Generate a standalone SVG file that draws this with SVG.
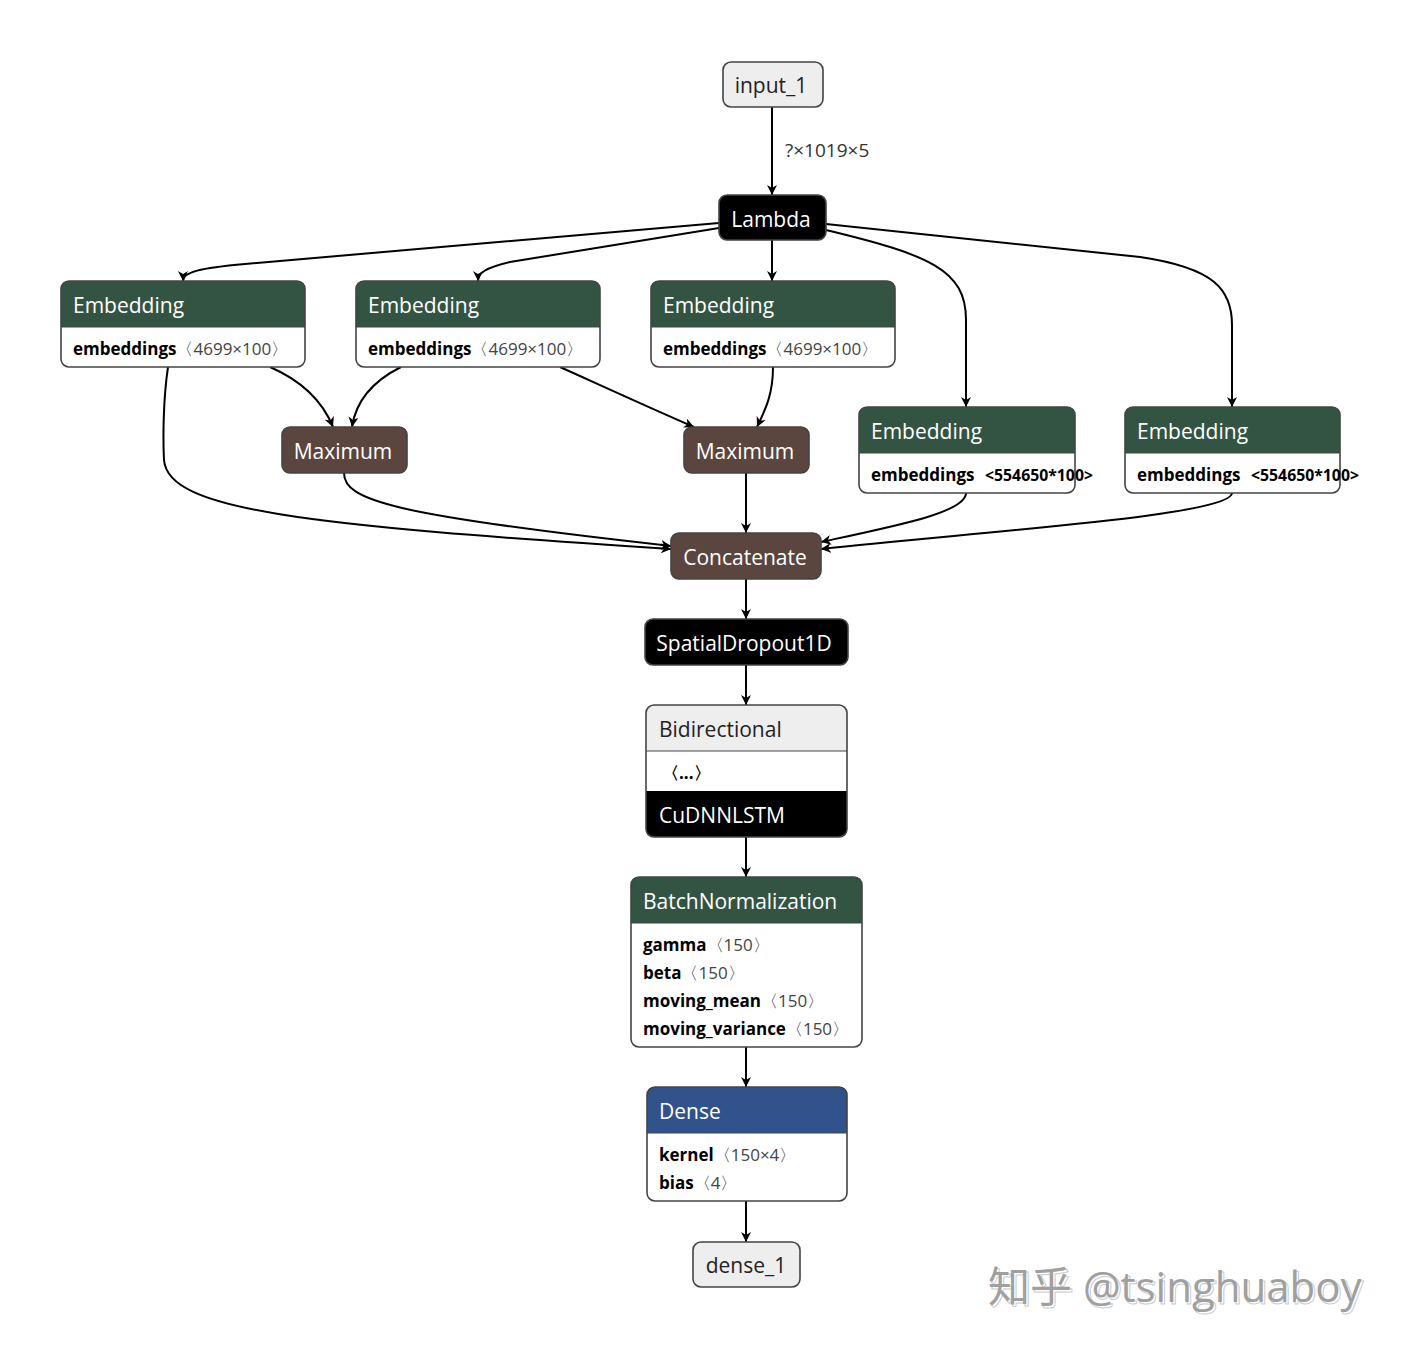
<svg xmlns="http://www.w3.org/2000/svg" width="1402" height="1350" viewBox="0 0 1402 1350">
<defs>
<marker id="arr" viewBox="0 0 10 10" refX="10" refY="5" markerWidth="10" markerHeight="10" markerUnits="userSpaceOnUse" orient="auto">
<path d="M0,0 L10,5 L0,10 L3,5 Z" fill="#000"/>
</marker>
<style>
.box{stroke:#444;stroke-width:1.6;fill:none}
.t{font-family:"Open Sans","Noto Sans","DejaVu Sans",sans-serif;font-size:21px}
.w{fill:#fff}
.k{fill:#222}
.b{font-family:"Open Sans","Noto Sans","DejaVu Sans",sans-serif;font-size:17px;fill:#000}
.bb{font-weight:bold}
.s{font-size:15.8px}
.edge{fill:none;stroke:#000;stroke-width:2;marker-end:url(#arr)}
.green{fill:#335443}
.brown{fill:#5b463f}
.blue{fill:#31528a}
</style>
</defs>
<rect width="1402" height="1350" fill="#fff"/>

<g id="connectors">
<path class="edge" d="M772,107 L772,195"/>
<path class="edge" d="M719,223 L245,264 C200,268 183,272 183,281"/>
<path class="edge" d="M719,228 L510,262 C485,268 478,273 478,281"/>
<path class="edge" d="M772,240 L772,281"/>
<path class="edge" d="M826,230 C930,255 966,270 966,320 L966,407"/>
<path class="edge" d="M826,224 L1140,257 C1215,268 1232,290 1232,325 L1232,407"/>
<path class="edge" d="M270,367 C300,380 322,400 333,427"/>
<path class="edge" d="M401,367 C375,380 356,400 352,427"/>
<path class="edge" d="M560,367 C600,385 650,408 694,427"/>
<path class="edge" d="M773,367 C773,395 765,410 757,427"/>
<path class="edge" d="M168,367 C163,400 163,440 164,460 C168,510 300,525 671,549"/>
<path class="edge" d="M344,473 C344,500 390,515 671,546"/>
<path class="edge" d="M746,473 L746,533"/>
<path class="edge" d="M966,493 C966,512 900,525 821,542"/>
<path class="edge" d="M1232,493 C1232,515 1000,530 821,549"/>
<path class="edge" d="M746,579 L746,619"/>
<path class="edge" d="M746,665 L746,705"/>
<path class="edge" d="M746,837 L746,877"/>
<path class="edge" d="M746,1047 L746,1087"/>
<path class="edge" d="M746,1201 L746,1242"/>
<text class="t" x="785" y="157" style="font-size:19px;fill:#333">?×1019×5</text>
</g>

<g id="input_1">
<rect x="723" y="62" width="100" height="45" rx="8" fill="#eee" stroke="#444" stroke-width="1.6"/>
<text class="t k" x="771" y="93" text-anchor="middle">input_1</text>
</g>

<g id="lambda">
<rect x="719" y="195" width="107" height="45" rx="8" fill="#000" stroke="#444" stroke-width="1.6"/>
<text class="t w" x="771" y="227" text-anchor="middle">Lambda</text>
</g>

<g id="embedding_1">
<rect x="61" y="281" width="244" height="86" rx="8" fill="#fff"/>
<path class="green" d="M61,327 L61,289 Q61,281 69,281 L297,281 Q305,281 305,289 L305,327 Z"/>
<rect class="box" x="61" y="281" width="244" height="86" rx="8"/>
<line x1="61" y1="327" x2="305" y2="327" stroke="#444" stroke-width="1.2"/>
<text class="t w" x="73" y="313">Embedding</text>
<text class="b" x="73" y="355"><tspan class="bb">embeddings</tspan><tspan fill="#444">〈4699×100〉</tspan></text>
</g>

<g id="embedding_2">
<rect x="356" y="281" width="244" height="86" rx="8" fill="#fff"/>
<path class="green" d="M356,327 L356,289 Q356,281 364,281 L592,281 Q600,281 600,289 L600,327 Z"/>
<rect class="box" x="356" y="281" width="244" height="86" rx="8"/>
<line x1="356" y1="327" x2="600" y2="327" stroke="#444" stroke-width="1.2"/>
<text class="t w" x="368" y="313">Embedding</text>
<text class="b" x="368" y="355"><tspan class="bb">embeddings</tspan><tspan fill="#444">〈4699×100〉</tspan></text>
</g>

<g id="embedding_3">
<rect x="651" y="281" width="244" height="86" rx="8" fill="#fff"/>
<path class="green" d="M651,327 L651,289 Q651,281 659,281 L887,281 Q895,281 895,289 L895,327 Z"/>
<rect class="box" x="651" y="281" width="244" height="86" rx="8"/>
<line x1="651" y1="327" x2="895" y2="327" stroke="#444" stroke-width="1.2"/>
<text class="t w" x="663" y="313">Embedding</text>
<text class="b" x="663" y="355"><tspan class="bb">embeddings</tspan><tspan fill="#444">〈4699×100〉</tspan></text>
</g>

<g id="embedding_4">
<rect x="859" y="407" width="216" height="86" rx="8" fill="#fff"/>
<path class="green" d="M859,453 L859,415 Q859,407 867,407 L1067,407 Q1075,407 1075,415 L1075,453 Z"/>
<rect class="box" x="859" y="407" width="216" height="86" rx="8"/>
<line x1="859" y1="453" x2="1075" y2="453" stroke="#444" stroke-width="1.2"/>
<text class="t w" x="871" y="439">Embedding</text>
<text class="b" x="871" y="481"><tspan class="bb">embeddings</tspan><tspan class="bb s" x="985">&lt;554650*100&gt;</tspan></text>
</g>

<g id="embedding_5">
<rect x="1125" y="407" width="215" height="86" rx="8" fill="#fff"/>
<path class="green" d="M1125,453 L1125,415 Q1125,407 1133,407 L1332,407 Q1340,407 1340,415 L1340,453 Z"/>
<rect class="box" x="1125" y="407" width="215" height="86" rx="8"/>
<line x1="1125" y1="453" x2="1340" y2="453" stroke="#444" stroke-width="1.2"/>
<text class="t w" x="1137" y="439">Embedding</text>
<text class="b" x="1137" y="481"><tspan class="bb">embeddings</tspan><tspan class="bb s" x="1251">&lt;554650*100&gt;</tspan></text>
</g>

<g id="maximum_1">
<rect x="282" y="427" width="125" height="46" rx="8" class="brown" stroke="#444" stroke-width="1.6"/>
<text class="t w" x="343" y="459" text-anchor="middle">Maximum</text>
</g>

<g id="maximum_2">
<rect x="684" y="427" width="125" height="46" rx="8" class="brown" stroke="#444" stroke-width="1.6"/>
<text class="t w" x="745" y="459" text-anchor="middle">Maximum</text>
</g>

<g id="concatenate">
<rect x="671" y="533" width="150" height="46" rx="8" class="brown" stroke="#444" stroke-width="1.6"/>
<text class="t w" x="745" y="565" text-anchor="middle">Concatenate</text>
</g>

<g id="spatialdropout1d">
<rect x="645" y="619" width="203" height="46" rx="8" fill="#000" stroke="#444" stroke-width="1.6"/>
<text class="t w" x="744" y="651" text-anchor="middle">SpatialDropout1D</text>
</g>

<g id="bidirectional">
<rect x="646" y="705" width="201" height="132" rx="8" fill="#fff"/>
<path fill="#eee" d="M646,751 L646,713 Q646,705 654,705 L839,705 Q847,705 847,713 L847,751 Z"/>
<path fill="#000" d="M646,791 L847,791 L847,829 Q847,837 839,837 L654,837 Q646,837 646,829 Z"/>
<rect class="box" x="646" y="705" width="201" height="132" rx="8"/>
<line x1="646" y1="751" x2="847" y2="751" stroke="#444" stroke-width="1.2"/>
<text class="t k" x="659" y="737">Bidirectional</text>
<text class="b bb" x="662" y="779">〈...〉</text>
<text class="t w" x="659" y="823">CuDNNLSTM</text>
</g>

<g id="batchnormalization">
<rect x="631" y="877" width="231" height="170" rx="8" fill="#fff"/>
<path class="green" d="M631,923 L631,885 Q631,877 639,877 L854,877 Q862,877 862,885 L862,923 Z"/>
<rect class="box" x="631" y="877" width="231" height="170" rx="8"/>
<line x1="631" y1="923" x2="862" y2="923" stroke="#444" stroke-width="1.2"/>
<text class="t w" x="643" y="909">BatchNormalization</text>
<text class="b" x="643" y="951"><tspan class="bb">gamma</tspan><tspan fill="#444">〈150〉</tspan></text>
<text class="b" x="643" y="979"><tspan class="bb">beta</tspan><tspan fill="#444">〈150〉</tspan></text>
<text class="b" x="643" y="1007"><tspan class="bb">moving_mean</tspan><tspan fill="#444">〈150〉</tspan></text>
<text class="b" x="643" y="1035"><tspan class="bb">moving_variance</tspan><tspan fill="#444">〈150〉</tspan></text>
</g>

<g id="dense">
<rect x="647" y="1087" width="200" height="114" rx="8" fill="#fff"/>
<path class="blue" d="M647,1133 L647,1095 Q647,1087 655,1087 L839,1087 Q847,1087 847,1095 L847,1133 Z"/>
<rect class="box" x="647" y="1087" width="200" height="114" rx="8"/>
<line x1="647" y1="1133" x2="847" y2="1133" stroke="#444" stroke-width="1.2"/>
<text class="t w" x="659" y="1119">Dense</text>
<text class="b" x="659" y="1161"><tspan class="bb">kernel</tspan><tspan fill="#444">〈150×4〉</tspan></text>
<text class="b" x="659" y="1189"><tspan class="bb">bias</tspan><tspan fill="#444">〈4〉</tspan></text>
</g>

<g id="dense_1">
<rect x="693" y="1242" width="107" height="45" rx="8" fill="#eee" stroke="#444" stroke-width="1.6"/>
<text class="t k" x="746" y="1273" text-anchor="middle">dense_1</text>
</g>

<g id="watermark">
<text x="988" y="1302" font-family="'Open Sans','Noto Sans CJK SC',sans-serif" font-size="42" fill="#fff" stroke="#ccc" stroke-width="1" transform="translate(2,2)">知乎 @tsinghuaboy</text>
<text x="988" y="1302" font-family="'Open Sans','Noto Sans CJK SC',sans-serif" font-size="42" fill="#a0a0a0">知乎 @tsinghuaboy</text>
</g>
</svg>
